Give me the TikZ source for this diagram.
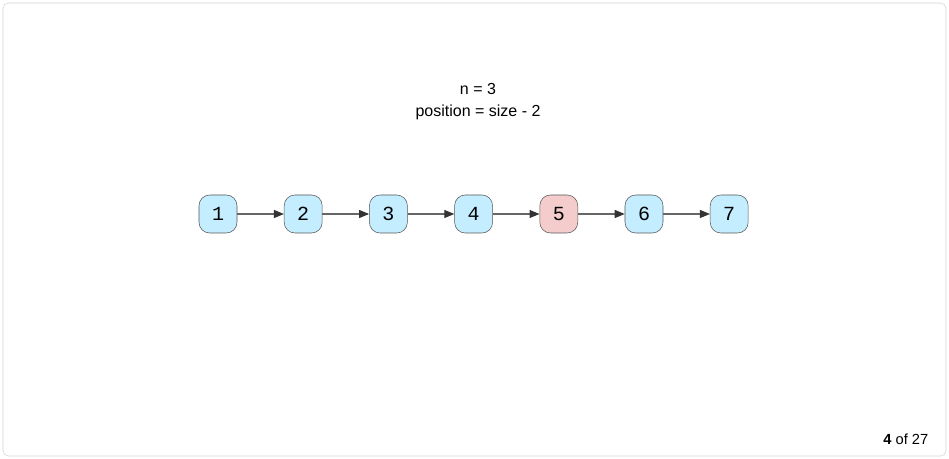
\documentclass[tikz,border=0pt]{standalone}
\usepackage{fontspec}
\setmainfont{Liberation Sans}
\setmonofont{Liberation Mono}
\usetikzlibrary{arrows.meta,positioning}
\definecolor{cellblue}{HTML}{C4EEFF}
\definecolor{cellred}{HTML}{F4CCCC}
\definecolor{edgegray}{HTML}{555555}
\begin{document}
\begin{tikzpicture}[>={Triangle[length=7.5pt,width=6pt,color=black!80]},x=0.75pt,y=-0.75pt,
  cell/.style={draw=edgegray,fill=cellblue,rounded corners=8pt,minimum size=28.5pt,inner sep=0pt,font=\ttfamily\fontsize{15}{15}\selectfont},
  hot/.style={cell,fill=cellred},
  link/.style={->,draw=black!60,line width=0.8pt}]
\useasboundingbox (0,0) rectangle (949,459);
\draw[draw=black!18,rounded corners=4pt] (3,3) rectangle (946,456);
\node[align=center,font=\fontsize{12}{16.5}\selectfont] (info) at (478,101.5) {n = 3\\position = size - 2};
\node[cell] (c1) at (218,214) {1};
\foreach \i/\j in {1/2,2/3,3/4,4/5,5/6,6/7}{
  \ifnum\j=5
    \node[hot,right=35pt of c\i] (c\j) {\j};
  \else
    \node[cell,right=35pt of c\i] (c\j) {\j};
  \fi
  \draw[link] (c\i) -- (c\j);
}
\node[anchor=east,font=\fontsize{11}{13}\selectfont] (page) at (933,439) {\textbf{4} of 27};
\end{tikzpicture}
\end{document}
